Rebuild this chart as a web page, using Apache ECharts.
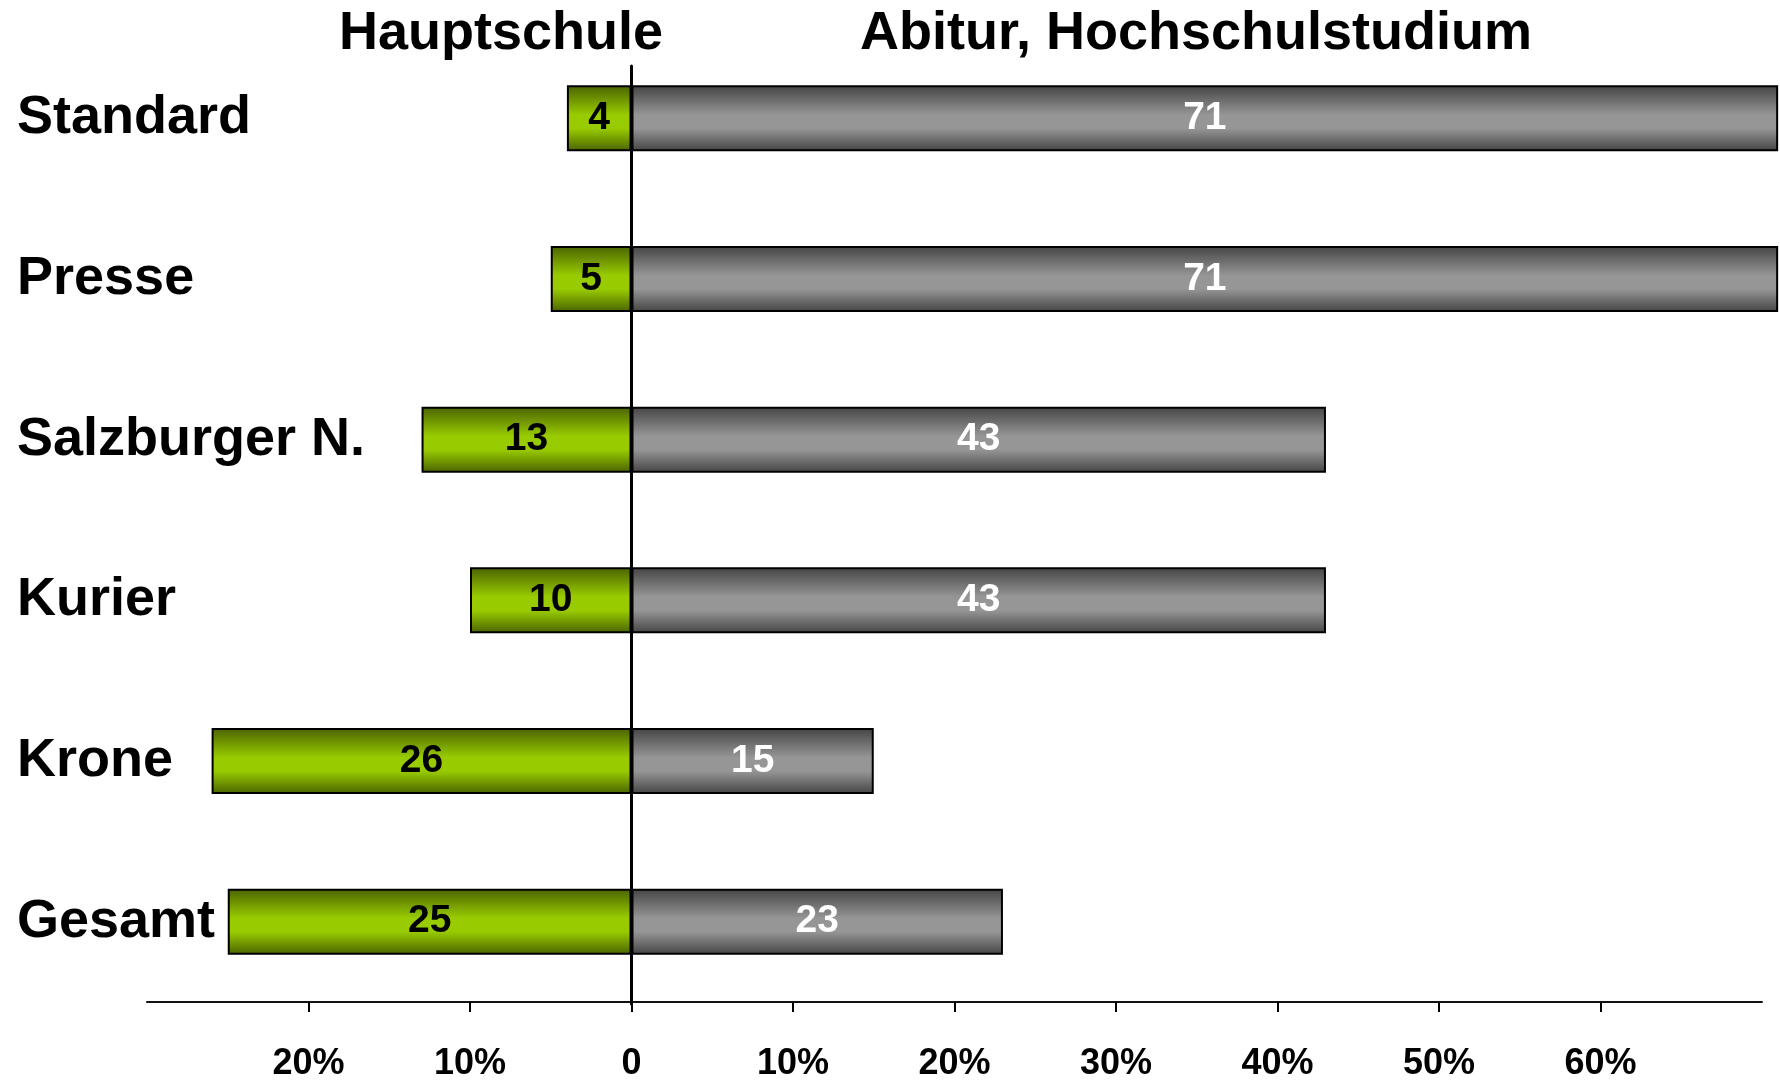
<!DOCTYPE html>
<html>
<head>
<meta charset="utf-8">
<script src="https://cdn.jsdelivr.net/npm/echarts@6/dist/echarts.min.js"></script>
<style>
  html, body { margin: 0; padding: 0; background: #fff; }
  #chart { width: 1780px; height: 1082px; }
</style>
</head>
<body>
<div id="chart"></div>
<script>
const categories = ['Standard', 'Presse', 'Salzburger N.', 'Kurier', 'Krone', 'Gesamt']
const hauptschule = [4, 5, 13, 10, 26, 25]
const abitur = [71, 71, 43, 43, 15, 23]
const headers = ['Hauptschule', 'Abitur, Hochschulstudium']

const font = 'Arial, "Liberation Sans", sans-serif'

// dunkel oben/unten, hell in der Mitte
function barGradient(dark, light) {
  return {
    type: 'linear', x: 0, y: 0, x2: 0, y2: 1,
    colorStops: [
      { offset: 0, color: dark },
      { offset: 0.45, color: light },
      { offset: 0.65, color: light },
      { offset: 1, color: dark }
    ]
  }
}

const headerStyle = { fontFamily: font, fontWeight: 'bold', fontSize: 54, color: '#000' }

const myChart = echarts.init(document.getElementById('chart'))
const option = {
  backgroundColor: '#fff',
  animation: false,
  title: [
    { text: headers[0], left: 501, top: 7, textAlign: 'center', padding: 0, textStyle: headerStyle },
    { text: headers[1], left: 1196, top: 7, textAlign: 'center', padding: 0, textStyle: headerStyle }
  ],
  grid: [
    { left: 147, right: 18, top: 38, bottom: 78 },
    // nur fuer die Nulllinie, die unter den Ueberschriften beginnt
    { left: 147, right: 18, top: 66, bottom: 78 }
  ],
  xAxis: [
    {
      type: 'value',
      min: -30,
      max: 70,
      interval: 10,
      splitLine: { show: false },
      axisLine: { show: true, onZero: false, lineStyle: { color: '#111', width: 2 } },
      axisTick: { show: true, length: 10, lineStyle: { color: '#000', width: 2 } },
      axisLabel: {
        showMinLabel: false,
        showMaxLabel: false,
        margin: 44,
        color: '#000',
        fontFamily: font,
        fontWeight: 'bold',
        fontSize: 36,
        formatter: v => (v === 0 ? '0' : Math.abs(v) + '%')
      }
    },
    { gridIndex: 1, type: 'value', min: -30, max: 70, show: false }
  ],
  yAxis: [
    {
      type: 'category',
      data: categories,
      inverse: true,
      axisLine: { show: false, onZero: false },
      axisTick: { show: false },
      splitLine: { show: false },
      axisLabel: {
        align: 'left',
        margin: 130,
        padding: [8, 0, 0, 0],
        color: '#000',
        fontFamily: font,
        fontWeight: 'bold',
        fontSize: 54
      }
    },
    {
      gridIndex: 1,
      type: 'value',
      z: 5,
      axisLine: { show: true, onZero: true, lineStyle: { color: '#000', width: 3 } },
      axisTick: { show: false },
      axisLabel: { show: false },
      splitLine: { show: false }
    }
  ],
  series: [
    {
      name: headers[0],
      type: 'bar',
      stack: 'bildung',
      barWidth: 66,
      data: hauptschule.map(v => -v),
      itemStyle: {
        color: barGradient('#4a6200', '#99cc00'),
        borderColor: '#000',
        borderWidth: 2
      },
      label: {
        show: true,
        position: 'inside',
        color: '#000',
        fontFamily: font,
        fontWeight: 'bold',
        fontSize: 39,
        formatter: p => Math.abs(p.value)
      }
    },
    {
      name: headers[1],
      type: 'bar',
      stack: 'bildung',
      barWidth: 66,
      clip: false,
      data: abitur,
      itemStyle: {
        color: barGradient('#444444', '#969696'),
        borderColor: '#000',
        borderWidth: 2
      },
      label: {
        show: true,
        position: 'inside',
        color: '#fff',
        fontFamily: font,
        fontWeight: 'bold',
        fontSize: 39
      }
    }
  ]
}
myChart.setOption(option)
</script>
</body>
</html>
